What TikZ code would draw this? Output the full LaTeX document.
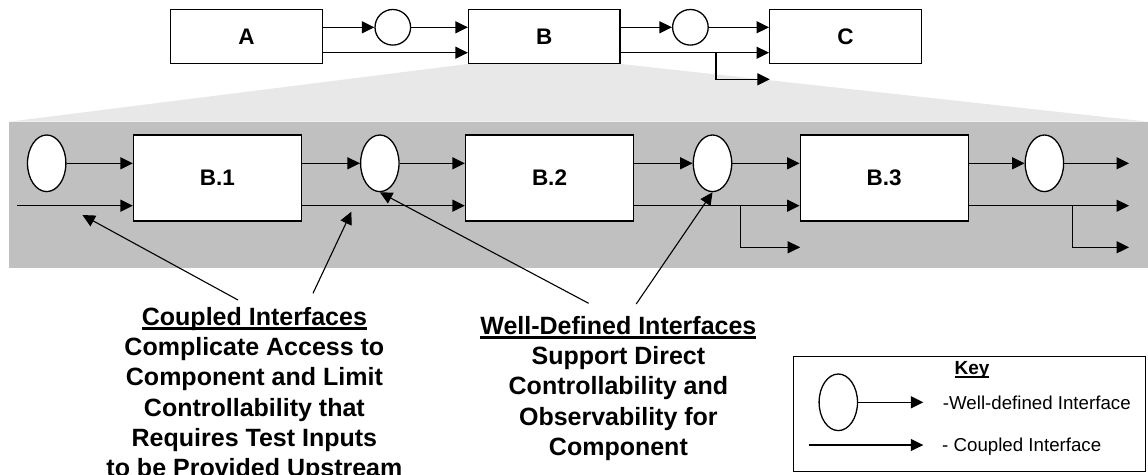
\documentclass[tikz,border=0pt]{standalone}
\usepackage{fontspec}
\setmainfont{Liberation Sans}
\usetikzlibrary{backgrounds,arrows.meta,shapes,positioning}
\definecolor{bandgray}{RGB}{192,192,192}
\definecolor{fangray}{RGB}{232,232,232}
\newcommand{\ulabel}[1]{\leavevmode\setbox0\hbox{#1}\rlap{\rule[-0.18em]{\wd0}{0.1em}}\box0}
\tikzstyle{block}=[rectangle,draw=black,line width=1.3pt,fill=white,inner sep=0pt,
  minimum width=151.5pt,minimum height=54pt,font=\fontsize{22.5}{27}\selectfont\bfseries]
\tikzstyle{subblock}=[block,minimum width=168pt,minimum height=86pt]
\tikzstyle{iface}=[ellipse,draw=black,line width=1.3pt,fill=white,inner sep=0pt,
  minimum width=38.4pt,minimum height=56.6pt]
\tikzstyle{plug}=[circle,draw=black,line width=1.3pt,fill=white,inner sep=0pt,minimum size=35.6pt]
\tikzstyle{wire}=[line width=1.3pt]
\tikzstyle{pointer}=[line width=1.1pt]
\tikzstyle{note}=[align=center,inner sep=0pt,anchor=north,font=\fontsize{25}{30.3}\selectfont\bfseries]
\tikzstyle{keytext}=[anchor=west,inner sep=0pt,font=\fontsize{18.7}{22}\selectfont]

\begin{document}
\begin{tikzpicture}[x=1pt,y=-1pt,>={Triangle[length=12.5pt,width=12pt]}]
    \useasboundingbox (0,0) rectangle (1148,474);

    % top level: A -> B -> C
    \node[block] (a) at (246.4,36.3) {A};
    \node[block] (b) at (544.3,36.3) {B};
    \node[block] (c) at (845.4,36.3) {C};
    \node[plug] (ab) at (392.8,27.3) {};
    \node[plug] (bc) at (690.4,27.3) {};
    \coordinate (lo) at (0,52.7);
    \coordinate (fork0) at (716,52.7);
    \coordinate (tap0) at (769.8,79.3);

    \draw[wire,->] (a.east |- ab) -- (ab);
    \draw[wire,->] (ab) -- (ab -| b.west);
    \draw[wire,->] (a.east |- lo) -- (b.west |- lo);
    \draw[wire,->] (b.east |- bc) -- (bc);
    \draw[wire,->] (bc) -- (bc -| c.west);
    \draw[wire,->] (b.east |- lo) -- (c.west |- lo);
    \draw[wire,->] (fork0) |- (tap0);

    % B opened up
    \node[iface] (e1) at (46.7,163.3) {};
    \node[subblock] (b1) at (217.5,177.9) {B.1};
    \node[iface] (e2) at (379.8,163.3) {};
    \node[subblock] (b2) at (549.5,177.9) {B.2};
    \node[iface] (e3) at (712.5,163.3) {};
    \node[subblock] (b3) at (884.2,177.9) {B.3};
    \node[iface] (e4) at (1044.4,163.3) {};
    \coordinate (in0) at (17.2,205.7);
    \coordinate (fork1) at (740.5,205.7);
    \coordinate (fork2) at (1072.5,205.7);
    \coordinate (tap1) at (800.2,247.3);
    \coordinate (out1) at (1129,163.3);
    \coordinate (out2) at (1129,205.7);
    \coordinate (out3) at (1129,247.3);

    \draw[wire,->] (e1) -- (e1 -| b1.west);
    \draw[wire,->] (in0) -- (in0 -| b1.west);
    \draw[wire,->] (b1.east |- e2) -- (e2);
    \draw[wire,->] (e2) -- (e2 -| b2.west);
    \draw[wire,->] (b1.east |- in0) -- (b2.west |- in0);
    \draw[wire,->] (b2.east |- e3) -- (e3);
    \draw[wire,->] (e3) -- (e3 -| b3.west);
    \draw[wire,->] (b2.east |- in0) -- (b3.west |- in0);
    \draw[wire,->] (fork1) |- (tap1);
    \draw[wire,->] (b3.east |- e4) -- (e4);
    \draw[wire,->] (e4) -- (out1);
    \draw[wire,->] (b3.east |- in0) -- (out2);
    \draw[wire,->] (fork2) |- (out3);

    \begin{scope}[on background layer]
      \fill[fangray] (b.south west) -- (b.south east) -- (1148,121.7) -- (9,121.7) -- cycle;
      \fill[bandgray] (9,121.7) rectangle (1148,268.3);
    \end{scope}

    % callouts
    \node[note] (coupled) at (254.4,306.8) {\ulabel{Coupled Interfaces}\\Complicate Access to\\Component and Limit\\Controllability that\\Requires Test Inputs\\to be Provided Upstream};
    \node[note] (welldef) at (618.4,315.8) {\ulabel{Well-Defined Interfaces}\\Support Direct\\Controllability and\\Observability for\\Component};
    \coordinate (ct1) at (238,300);
    \coordinate (ct2) at (313,293.3);
    \coordinate (cp1) at (82.4,215);
    \coordinate (cp2) at (351.4,211.7);
    \coordinate (wt1) at (588.6,303.3);
    \coordinate (wt2) at (636.2,304);
    \draw[pointer,->] (ct1) -- (cp1);
    \draw[pointer,->] (ct2) -- (cp2);
    \draw[pointer,->] (wt1) -- (e2.south);
    \draw[pointer,->] (wt2) -- (e3.south);

    % key
    \node[draw=black,line width=1.3pt,inner sep=0pt,minimum width=352pt,minimum height=115pt] (key) at (969.8,414.2) {};
    \node[inner sep=0pt,font=\fontsize{19}{23}\selectfont\bfseries] (keytitle) at (972,370) {\ulabel{Key}};
    \node[iface] (kell) at (838.3,402.3) {};
    \coordinate (kend1) at (923.3,402.3);
    \coordinate (kstart2) at (809.3,445);
    \coordinate (kend2) at (923.3,445);
    \draw[wire,->] (kell) -- (kend1);
    \draw[wire,->] (kstart2) -- (kend2);
    \node[keytext] (kwell) at (942.7,403) {-Well-defined Interface};
    \node[keytext] (kcoup) at (942,447) {- Coupled Interface};
  \end{tikzpicture}
\end{document}
